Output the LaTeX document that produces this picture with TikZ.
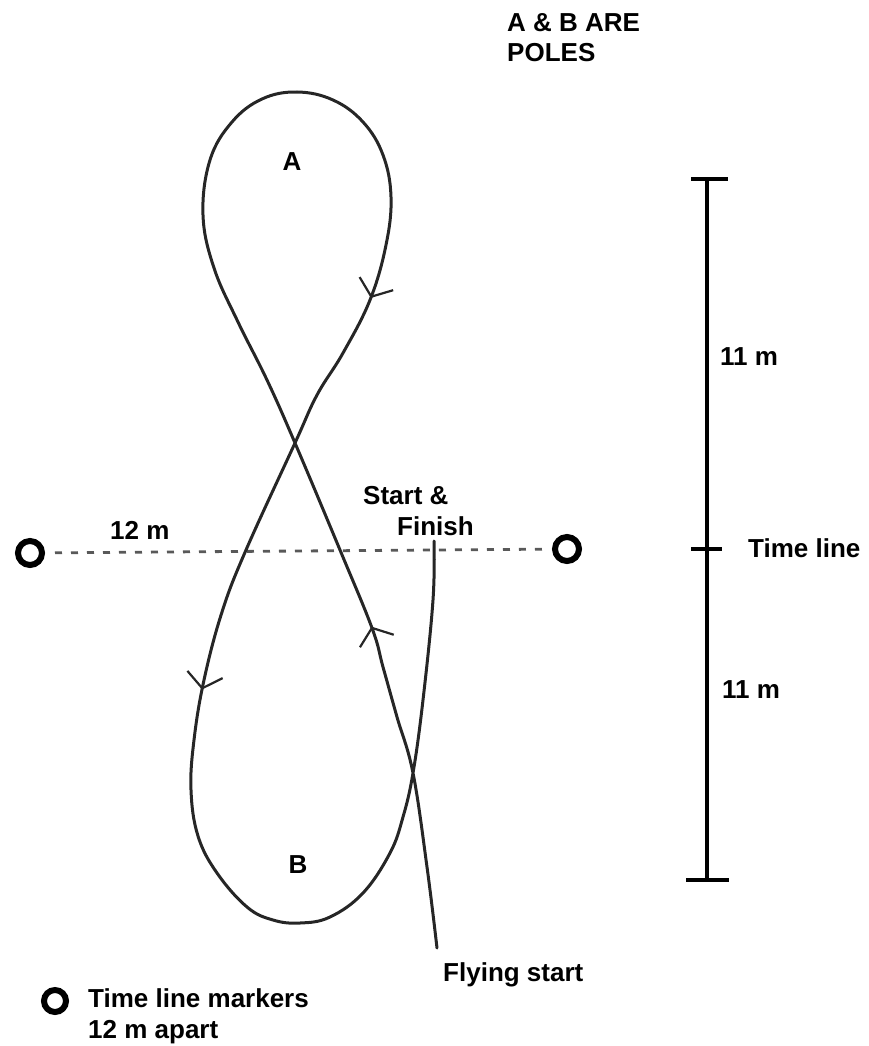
\documentclass[tikz,border=0pt]{standalone}
\usepackage{fontspec}
\setmainfont{Liberation Sans}
\usetikzlibrary{arrows.meta,decorations.markings}

\begin{document}
\begin{tikzpicture}[
    x=1pt, y=-1pt,
    course/.style={line width=3pt, draw=black!85, line join=round, line cap=round},
    barbs/.style={postaction={decorate, decoration={markings,
        mark=at position 0.139 with {\arrow{Straight Barb[length=14pt, width=36pt, line width=2.2pt]}},
        mark=at position 0.511 with {\arrow{Straight Barb[length=14pt, width=36pt, line width=2.2pt]}},
        mark=at position 0.692 with {\arrow{Straight Barb[length=14pt, width=36pt, line width=2.2pt]}}}}},
    timeline/.style={line width=2.8pt, draw=black!65, dash pattern=on 7pt off 9pt, shorten <=10pt, shorten >=6pt},
    marker/.style={circle, draw, line width=6pt, minimum size=24pt, inner sep=0pt},
    scalebar/.style={line width=3.5pt},
    label/.style={font=\bfseries\fontsize{26}{30.5}\selectfont, inner sep=0pt, anchor=base west, align=left}
]
\useasboundingbox (0,0) rectangle (868,1046);

% Time line with its markers
\node[marker] (markL) at (30,553) {};
\node[marker] (markR) at (567,549) {};
\draw[timeline] (markL) -- (markR);
\node[label] (gap) at (110,539) {12 m};

% Course: flying start, round A, round B, back to the line
\draw[course, barbs] plot[smooth, tension=0.65] coordinates {
    (437,948) (427,867) (413,773) (397,717) (383,667) (372,628) (340,550)
    (295,443) (267,380) (238,322) (214,268) (203,215) (210,160) (232,122)
    (262,99) (297,92) (333,100) (363,122) (383,155) (391,197) (386,245)
    (370,300) (343,353) (317,395) (295,443) (246,550) (222,612) (204,680)
    (194,740) (191,790) (198,836) (217,873) (247,907) (273,920)
    (300,923) (330,917) (363,893) (390,853) (403,817) (413,773) (423,700)
    (433,600) (434,541)};

% Poles
\node[label, anchor=base] (poleA) at (292,170) {A};
\node[label, anchor=base] (poleB) at (298,873) {B};
\node[label] (poles) at (507,62) {A \& B ARE\\POLES};
\node[label] (finish) at (363,535) {Start \&\\\hspace*{34pt}Finish};
\node[label] (flying) at (443,981) {Flying start};

% Scale bar
\coordinate (barTop) at (707,179);
\coordinate (barMid) at (707,549);
\coordinate (barBot) at (707,880);
\draw[scalebar] (barTop) -- (barBot);
\draw[scalebar] ([xshift=-16pt]barTop) -- ([xshift=21pt]barTop);
\draw[scalebar] ([xshift=-16pt]barMid) -- ([xshift=15pt]barMid);
\draw[scalebar] ([xshift=-21pt]barBot) -- ([xshift=22pt]barBot);
\node[label] (upper) at (720,365) {11 m};
\node[label] (lower) at (722,698) {11 m};
\node[label] (tline) at (748,557) {Time line};

% Key
\node[marker, minimum size=22pt] (markKey) at (55,1001) {};
\node[label] (key) at (88,1038) {Time line markers\\12 m apart};

\end{tikzpicture}
\end{document}
